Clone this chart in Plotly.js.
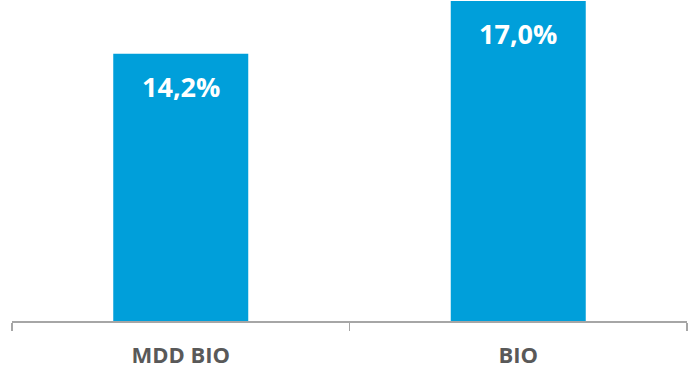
<!DOCTYPE html>
<html>
<head>
<meta charset="utf-8">
<script src="https://cdn.plot.ly/plotly-3.0.1.min.js"></script>
<style>
  html, body { margin: 0; padding: 0; background: #ffffff; }
  #chart { width: 693px; height: 374px; }
</style>
</head>
<body>
<div id="chart"></div>
<script>
// Share of organic products by category
const categories = ['MDD BIO', 'BIO'];
const values = [14.2, 17.0];
const valueLabels = ['14,2%', '17,0%'];

const barColor = '#009FDA';
const axisGrey = '#A6A6A6';

const trace = {
  type: 'bar',
  x: categories,
  y: values,
  marker: { color: barColor },
  width: 0.4,
  hoverinfo: 'skip'
};

// Value labels sit just inside the top of each bar
const annotations = categories.map((c, i) => ({
  x: c,
  y: values[i],
  xref: 'x',
  yref: 'y',
  text: '<b>' + valueLabels[i] + '</b>',
  showarrow: false,
  yanchor: 'top',
  yshift: -12,
  font: { family: 'Open Sans, sans-serif', size: 27, color: '#ffffff' }
}));

const layout = {
  width: 693,
  height: 374,
  margin: { l: 12, r: 6, t: 0, b: 53 },
  paper_bgcolor: '#ffffff',
  plot_bgcolor: '#ffffff',
  showlegend: false,
  xaxis: {
    type: 'category',
    range: [-0.5, 1.5],
    showline: true,
    linecolor: axisGrey,
    linewidth: 1.5,
    ticks: 'outside',
    tickson: 'boundaries',
    ticklen: 8,
    tickcolor: axisGrey,
    tickwidth: 1.5,
    showgrid: false,
    zeroline: false,
    tickfont: { family: 'Open Sans, sans-serif', size: 22, color: '#595959', weight: 'bold' },
    ticklabelstandoff: 14
  },
  yaxis: {
    range: [0, 17.05],
    visible: false,
    showgrid: false,
    zeroline: false
  },
  annotations: annotations
};

Plotly.newPlot('chart', [trace], layout, { displayModeBar: false, staticPlot: true });
</script>
</body>
</html>
